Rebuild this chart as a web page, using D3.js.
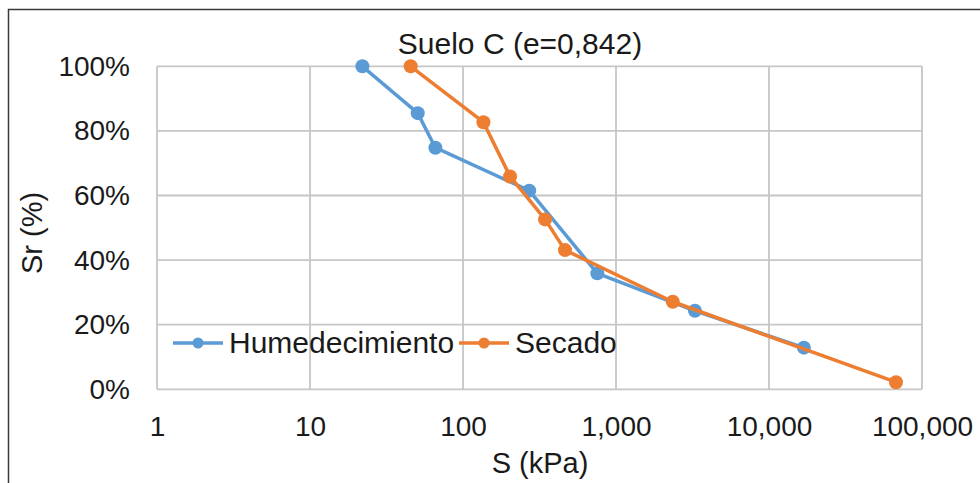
<!DOCTYPE html>
<html>
<head>
<meta charset="utf-8">
<script src="https://cdn.jsdelivr.net/npm/d3@7"></script>
<style>
  html, body { margin: 0; padding: 0; background: #fff; }
  svg { display: block; }
  text { font-family: "Liberation Sans", Arial, sans-serif; fill: #1a1a1a; }
</style>
</head>
<body>
<svg id="chart" width="980" height="483"></svg>
<script>
// Suction S (kPa) vs degree of saturation Sr (%)
const seriesNames = ["Humedecimiento", "Secado"];
const seriesColors = ["#5B9BD5", "#ED7D31"];
const humedS  = [22, 50.6, 66, 271, 755, 3280, 16900];
const humedSr = [100, 85.5, 74.8, 61.5, 35.9, 24.3, 12.9];
const secadoS  = [45.5, 136, 203, 344, 464, 2350, 67600];
const secadoSr = [100, 82.7, 65.9, 52.6, 43.1, 27.1, 2.2];
const xTicks = [1, 10, 100, 1000, 10000, 100000];
const yTicks = [0, 20, 40, 60, 80, 100];
const chartTitle = "Suelo C (e=0,842)";
const xTitle = "S (kPa)";
const yTitle = "Sr (%)";

const svg = d3.select("#chart");
const plotL = 157, plotR = 922, plotT = 66.3, plotB = 389.3;

const x = d3.scaleLog().domain([1, 100000]).range([plotL, plotR]);
const y = d3.scaleLinear().domain([0, 100]).range([plotB, plotT]);

// outer chart frame
svg.append("rect")
  .attr("x", 8.5).attr("y", 9.5).attr("width", 1000).attr("height", 600)
  .attr("fill", "none").attr("stroke", "#3a3a3a").attr("stroke-width", 1.5);

// gridlines
const grid = svg.append("g").attr("stroke", "#c6c6c6").attr("stroke-width", 1.8);
grid.selectAll("line.v").data(xTicks).join("line").attr("class", "v")
  .attr("x1", d => x(d)).attr("x2", d => x(d))
  .attr("y1", plotT).attr("y2", plotB);
grid.selectAll("line.h").data(yTicks).join("line").attr("class", "h")
  .attr("x1", plotL).attr("x2", plotR)
  .attr("y1", d => y(d)).attr("y2", d => y(d));

// axes (labels only; lines come from the grid)
const fmt = d3.format(",");
const xAxis = svg.append("g").attr("transform", `translate(0,${plotB})`)
  .call(d3.axisBottom(x).tickValues(xTicks).tickFormat(d => fmt(d)).tickSize(0).tickPadding(27));
xAxis.select(".domain").remove();
xAxis.selectAll("text").attr("font-size", 28).attr("fill", "#1a1a1a")
  .attr("font-family", "Liberation Sans, Arial, sans-serif");

const yAxis = svg.append("g").attr("transform", `translate(${plotL},0)`)
  .call(d3.axisLeft(y).tickValues(yTicks).tickFormat(d => d + "%").tickSize(0).tickPadding(27));
yAxis.select(".domain").remove();
yAxis.selectAll("text").attr("font-size", 28).attr("fill", "#1a1a1a")
  .attr("font-family", "Liberation Sans, Arial, sans-serif");

// series
const series = [
  { name: seriesNames[0], color: seriesColors[0], pts: humedS.map((s, i) => [s, humedSr[i]]) },
  { name: seriesNames[1], color: seriesColors[1], pts: secadoS.map((s, i) => [s, secadoSr[i]]) }
];
const line = d3.line().x(d => x(d[0])).y(d => y(d[1]));
series.forEach(s => {
  const g = svg.append("g");
  g.append("path").attr("d", line(s.pts)).attr("fill", "none")
    .attr("stroke", s.color).attr("stroke-width", 3.5).attr("stroke-linejoin", "round");
  g.selectAll("circle").data(s.pts).join("circle")
    .attr("cx", d => x(d[0])).attr("cy", d => y(d[1])).attr("r", 7)
    .attr("fill", s.color);
});

// legend
const legendItems = [
  { name: seriesNames[0], color: seriesColors[0], x0: 173 },
  { name: seriesNames[1], color: seriesColors[1], x0: 459 }
];
const ly = 343;
legendItems.forEach(it => {
  const g = svg.append("g");
  g.append("line").attr("x1", it.x0).attr("x2", it.x0 + 50).attr("y1", ly).attr("y2", ly)
    .attr("stroke", it.color).attr("stroke-width", 3.5);
  g.append("circle").attr("cx", it.x0 + 25).attr("cy", ly).attr("r", 5.5).attr("fill", it.color);
  g.append("text").attr("x", it.x0 + 56).attr("y", 353).attr("font-size", 30).text(it.name);
});

// titles
svg.append("text").attr("x", 520).attr("y", 54).attr("text-anchor", "middle")
  .attr("font-size", 30).text(chartTitle);
svg.append("text").attr("x", 540).attr("y", 473).attr("text-anchor", "middle")
  .attr("font-size", 29).text(xTitle);
svg.append("text").attr("transform", "translate(42,233) rotate(-90)")
  .attr("text-anchor", "middle").attr("font-size", 29).text(yTitle);
</script>
</body>
</html>
